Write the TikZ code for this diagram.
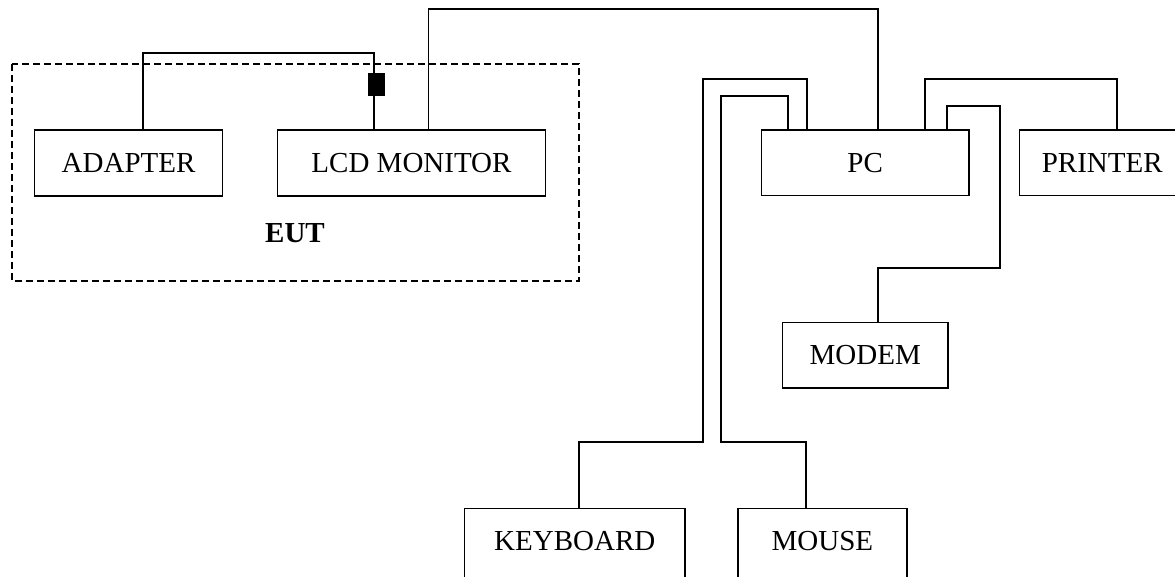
\documentclass[tikz,border=0pt]{standalone}
\usepackage{fontspec}
\setmainfont{Liberation Serif}
\begin{document}
\begin{tikzpicture}[x=1pt,y=-1pt,
  box/.style={draw,line width=1.4pt,inner sep=0pt,font=\fontsize{29}{34}\selectfont},
  cable/.style={line width=1.9pt,line join=miter},
  thincable/.style={line width=1.5pt},
  ferrite/.style={fill=black,draw=none,inner sep=0pt,minimum width=17pt,minimum height=23pt},
  eutframe/.style={line width=1.4pt,dash pattern=on 7pt off 4pt}]
\useasboundingbox (0,0) rectangle (1175,577);
\clip (0,0) rectangle (1175,577);
% EUT frame
\draw[eutframe] (12,64) rectangle (579,281);
\node[font=\fontsize{29}{34}\selectfont\bfseries] (eut) at (295,233) {EUT};
% boxes
\node[box,minimum width=188pt,minimum height=66pt] (adapter) at (128.6,163) {ADAPTER};
\node[box,minimum width=267.5pt,minimum height=66pt] (lcd) at (411.5,163) {LCD MONITOR};
\node[box,minimum width=207.6pt,minimum height=65.5pt] (pc) at (865.2,162.8) {PC};
\node[box,minimum width=165.5pt,minimum height=65.5pt] (printer) at (1102.2,162.8) {PRINTER};
\node[box,minimum width=165.5pt,minimum height=65.3pt] (modem) at (865.2,355.4) {MODEM};
\node[box,minimum width=220.4pt,minimum height=82pt,anchor=north] (keyboard) at (574.8,507.7) {};
\node[font=\fontsize{29}{34}\selectfont] (kbtext) at (574.8,541.5) {KEYBOARD};
\node[box,minimum width=168.8pt,minimum height=82pt,anchor=north] (mouse) at (822.4,507.7) {};
\node[font=\fontsize{29}{34}\selectfont] (mstext) at (822.4,541.5) {MOUSE};
% ferrite core
\node[ferrite] (core) at (376.5,84.2) {};
% cables
\draw[cable] (142.7,0 |- adapter.north) -- (142.7,53.3) -- (374.3,53.3) -- (374.3,0 |- lcd.north);
\draw[thincable] (428.6,0 |- lcd.north) -- (428.6,9) -- (878,9) -- (878,0 |- pc.north);
\draw[cable] (807,0 |- pc.north) -- (807,79.3) -- (702.6,79.3) -- (702.6,441.7) -- (579,441.7) -- (579,0 |- keyboard.north);
\draw[cable] (788,0 |- pc.north) -- (788,95.7) -- (721,95.7) -- (721,441.7) -- (806.4,441.7) -- (806.4,0 |- mouse.north);
\draw[cable] (925,0 |- pc.north) -- (925,79.3) -- (1116.6,79.3) -- (1116.6,0 |- printer.north);
\draw[cable] (947.4,0 |- pc.north) -- (947.4,106.3) -- (1000,106.3) -- (1000,267.7) -- (878.3,267.7) -- (878.3,0 |- modem.north);
\end{tikzpicture}
\end{document}
